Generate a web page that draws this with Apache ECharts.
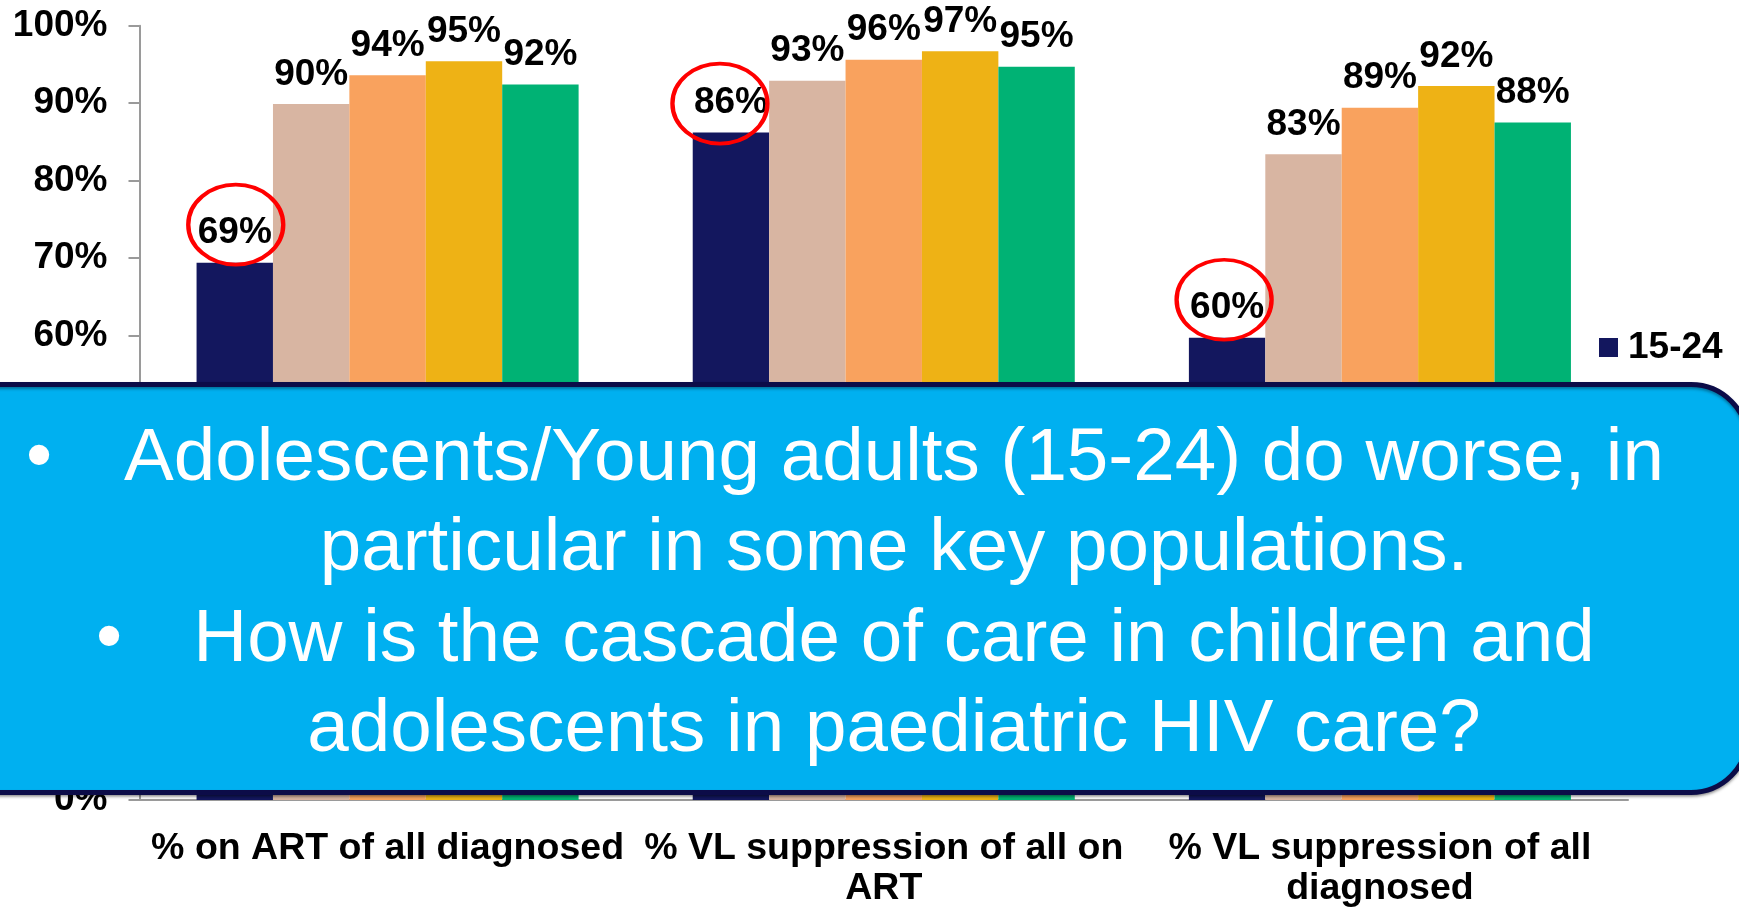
<!DOCTYPE html>
<html>
<head>
<meta charset="utf-8">
<title>Cascade of care by age</title>
<script src="https://cdn.jsdelivr.net/npm/echarts@6/dist/echarts.min.js"></script>
<style>
    html, body {
        margin: 0;
        padding: 0;
        background: #fff;
    }
    #chart {
        width: 1739px;
        height: 909px;
    }
</style>
</head>
<body>
<div id="chart"></div>
<script>
// categories on the x axis
const categories = ['% on ART of all diagnosed', '% VL suppression of all on ART', '% VL suppression of all diagnosed']
// age groups (only the first one is visible, the others sit under the callout)
const ageGroups = ['15-24', '25-34', '35-44', '45-54', '55+']
// values in %, one array per age group
const age15to24 = [69.4, 86.2, 59.7]
const age25to34 = [89.9, 92.9, 83.4]
const age35to44 = [93.6, 95.6, 89.4]
const age45to54 = [95.4, 96.7, 92.2]
const age55plus = [92.4, 94.7, 87.5]
const yTicks = [0, 10, 20, 30, 40, 50, 60, 70, 80, 90, 100]
// categories where the youngest group is circled
const circled = [0, 1, 2]
// callout text
const calloutLines = [
    'Adolescents/Young adults (15-24) do worse, in',
    'particular in some key populations.',
    'How is the cascade of care in children and',
    'adolescents in paediatric HIV care?'
]

let colors = ['#13175E', '#D8B5A2', '#F9A25E', '#EEB215', '#00B274']
let font = 'Liberation Sans, Arial, sans-serif'
let seriesValues = [age15to24, age25to34, age35to44, age45to54, age55plus]

// wrap category names by word without trailing spaces
let measureCtx = document.createElement('canvas').getContext('2d')
let wrapLabel = (text, maxW, cssFont) => {
    measureCtx.font = cssFont
    let words = text.split(' ')
    let lines = []
    let cur = ''
    words.forEach(w => {
        let test = cur ? cur + ' ' + w : w
        if (cur && measureCtx.measureText(test).width > maxW) {
            lines.push(cur)
            cur = w
        } else {
            cur = test
        }
    })
    if (cur) lines.push(cur)
    return lines.join('\n')
}

let myChart = echarts.init(document.getElementById('chart'))

// hand drawn circles are not perfectly centred on the label
let circleOffsets = [[1, -38], [-11, -29], [-3, -38]]

let series = seriesValues.map((vals, i) => {
    let s = {
        name: ageGroups[i],
        type: 'bar',
        data: vals,
        barGap: '0%',
        barCategoryGap: '23%',
        itemStyle: {
            color: colors[i]
        },
        label: {
            show: true,
            position: 'top',
            distance: 11,
            formatter: (p) => Math.round(p.value) + '%',
            fontSize: 37,
            fontWeight: 'bold',
            fontFamily: font,
            color: '#000'
        }
    }
    if (i === 0) {
        //红圈
        s.markPoint = {
            symbol: 'circle',
            symbolSize: [95, 80],
            silent: true,
            label: { show: false },
            itemStyle: {
                color: 'rgba(0,0,0,0)',
                borderColor: '#FF0000',
                borderWidth: 4
            },
            data: circled.map((c, k) => ({ coord: [c, vals[c]], symbolOffset: circleOffsets[k] }))
        }
    }
    return s
})

// callout box + text drawn on top
let graphics = [
    {
        type: 'rect',
        z: 100,
        shape: { x: -60, y: 384.5, width: 1808, height: 408, r: 57 },
        style: {
            fill: '#00B0F0',
            stroke: '#0C0C48',
            lineWidth: 5,
            shadowColor: 'rgba(0,0,0,0.35)',
            shadowBlur: 3,
            shadowOffsetY: 2
        }
    }
]
let lineY = [459, 549, 640, 730]
calloutLines.forEach((t, i) => {
    graphics.push({
        type: 'text',
        z: 101,
        style: {
            text: t,
            x: 894,
            y: lineY[i],
            fill: '#fff',
            fontSize: 74.6,
            fontFamily: font,
            align: 'center',
            verticalAlign: 'middle'
        }
    })
})
// bullets
;[[39, 459], [109, 640]].forEach(b => {
    graphics.push({
        type: 'text',
        z: 101,
        style: {
            text: '•',
            x: b[0],
            y: b[1],
            fill: '#fff',
            fontSize: 74.6,
            fontFamily: font,
            align: 'center',
            verticalAlign: 'middle'
        }
    })
})

let option = {
    animation: false,
    grid: {
        left: 139.5,
        right: 111,
        top: 25.7,
        bottom: 105
    },
    legend: {
        orient: 'vertical',
        left: 1594,
        top: 324,
        itemWidth: 19,
        itemHeight: 19,
        itemGap: 22,
        icon: 'rect',
        data: ageGroups,
        textStyle: {
            fontSize: 37,
            fontWeight: 'bold',
            fontFamily: font,
            color: '#000',
            padding: [0, 0, 0, 5]
        }
    },
    xAxis: {
        type: 'category',
        data: categories,
        axisLine: {
            lineStyle: { color: '#9a9a9a', width: 2 }
        },
        axisTick: {
            length: 12,
            lineStyle: { color: '#9a9a9a', width: 2 }
        },
        axisLabel: {
            interval: 0,
            margin: 29,
            lineHeight: 40,
            fontSize: 37.5,
            fontWeight: 'bold',
            fontFamily: font,
            color: '#000',
            formatter: (v) => wrapLabel(v, 490, 'bold 37.5px Liberation Sans')
        }
    },
    yAxis: {
        type: 'value',
        min: yTicks[0],
        max: yTicks[yTicks.length - 1],
        interval: yTicks[1] - yTicks[0],
        splitLine: { show: false },
        axisLine: {
            show: true,
            lineStyle: { color: '#9a9a9a', width: 2 }
        },
        axisTick: {
            show: true,
            length: 11,
            lineStyle: { color: '#9a9a9a', width: 2 }
        },
        axisLabel: {
            margin: 32,
            formatter: '{value}%',
            fontSize: 37,
            fontWeight: 'bold',
            fontFamily: font,
            color: '#000'
        }
    },
    series: series,
    graphic: graphics
}

option && myChart.setOption(option)
window.addEventListener('resize', function () {
    myChart.resize()
})
</script>
</body>
</html>
